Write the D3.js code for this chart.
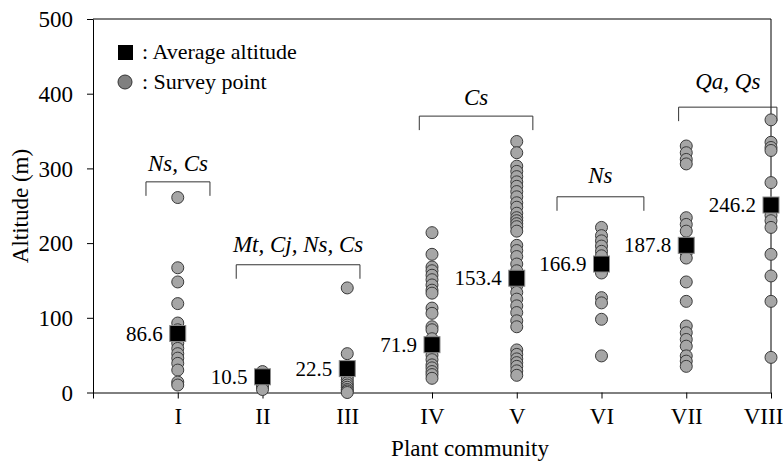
<!DOCTYPE html>
<html lang="en">
<head><meta charset="utf-8">
<title>Altitude by plant community</title>
<style>
body {
  margin: 0;
  background: #ffffff;
  font-family: "Liberation Serif", "Times New Roman", serif;
}
svg text { fill: #000; }
.axis path, .axis line { stroke: #000; stroke-width: 1px; }
.axis text { font-family: "Liberation Serif", serif; font-size: 23px; }
</style>
</head>
<body>
<svg></svg>
<script src="https://d3js.org/d3.v7.min.js"></script>
<script>

// categories and tick labels
var communities = ["I", "II", "III", "IV", "V", "VI", "VII", "VIII"];
var yTicks = [0, 100, 200, 300, 400, 500];

// survey points (m), one list per community
var surveyI    = [261, 167, 148, 119, 93, 84, 66, 59, 52, 46, 39, 30, 14, 10];
var surveyII   = [28, 20, 14, 10, 7, 4];
var surveyIII  = [140, 52, 30, 21, 17, 13, 10, 7, 4, 2, 0];
var surveyIV   = [214, 185, 168, 163, 157, 151, 144, 137, 133, 113, 106, 88, 84, 72, 50, 44, 37, 33, 28, 24, 19];
var surveyV    = [336, 321, 303, 296, 289, 282, 276, 269, 262, 254, 248, 240, 234, 230, 226, 222, 216, 197, 190, 182, 172, 163, 143, 134, 125, 116, 107, 96, 88, 57, 51, 45, 40, 35, 29, 23];
var surveyVI   = [221, 210, 203, 196, 189, 183, 160, 127, 120, 98, 49];
var surveyVII  = [330, 321, 312, 306, 234, 225, 216, 187, 180, 148, 122, 89, 80, 71, 62, 49, 42, 35];
var surveyVIII = [365, 335, 328, 324, 281, 243, 237, 230, 221, 185, 156, 122, 47];
var survey = [surveyI, surveyII, surveyIII, surveyIV, surveyV, surveyVI, surveyVII, surveyVIII];

// average markers: where the square sits, and its printed label
var avgPlotted = [79, 21, 32, 64, 153, 172, 197, 251];
var avgLabels  = ["86.6", "10.5", "22.5", "71.9", "153.4", "166.9", "187.8", "246.2"];

// species brackets: label, start/end in category units, heights in m
var bracketLabels = ["Ns, Cs", "Mt, Cj, Ns, Cs", "Cs", "Ns", "Qa, Qs"];
var bracketFrom   = [0.625, 1.69, 3.85, 5.475, 6.91];
var bracketTo     = [1.38, 3.15, 5.19, 6.50, 8.07];
var bracketLevel  = [282, 171, 370, 262, 382];
var bracketTextAt = [296, 188, 385, 280, 406];

var width = 783, height = 462;
var plotL = 93, plotR = 771, plotT = 19, plotB = 392.5;

var svg = d3.select("svg")
    .attr("width", width)
    .attr("height", height);

var x = d3.scaleLinear().domain([0, 8]).range([plotL, plotR]);
var y = d3.scaleLinear().domain([0, 500]).range([plotB, plotT]);

// frame (top and right)
svg.append("path")
    .attr("d", "M" + plotL + "," + plotT + "H" + plotR + "V" + plotB)
    .attr("fill", "none")
    .attr("stroke", "#000");

svg.append("g")
    .attr("class", "axis")
    .attr("transform", "translate(0," + plotB + ")")
    .call(d3.axisBottom(x)
        .tickValues(d3.range(0, 9))
        .tickSize(6)
        .tickSizeOuter(0)
        .tickFormat(function(d) { return d === 0 ? "" : communities[d - 1]; }))
    .selectAll("text")
    .attr("y", 31)
    .attr("dy", 0)
    .attr("dx", function(d) { return d === 8 ? -8 : 0; });

svg.append("g")
    .attr("class", "axis")
    .attr("transform", "translate(" + plotL + ",0)")
    .call(d3.axisLeft(y)
        .tickValues(yTicks)
        .tickSize(6)
        .tickSizeOuter(0))
    .selectAll("text").attr("x", -20).attr("dy", "0.34em");

// axis titles
svg.append("text")
    .attr("x", 470)
    .attr("y", 456)
    .attr("text-anchor", "middle")
    .style("font-size", "23px")
    .text("Plant community");

svg.append("text")
    .attr("transform", "translate(28," + 206 + ") rotate(-90)")
    .attr("text-anchor", "middle")
    .style("font-size", "23px")
    .text("Altitude (m)");

// brackets
var drop = 14;
bracketLabels.forEach(function(lab, i) {
  var x1 = x(bracketFrom[i]), x2 = x(bracketTo[i]), yy = y(bracketLevel[i]);
  svg.append("path")
      .attr("d", "M" + x1 + "," + (yy + drop) + "V" + yy + "H" + x2 + "V" + (yy + drop))
      .attr("fill", "none")
      .attr("stroke", "#333")
      .attr("stroke-width", 1);
  svg.append("text")
      .attr("x", (x1 + x2) / 2)
      .attr("y", y(bracketTextAt[i]))
      .attr("text-anchor", "middle")
      .style("font-size", "23px")
      .style("font-style", "italic")
      .text(lab);
});

// survey points
survey.forEach(function(vals, i) {
  svg.append("g").selectAll("circle")
      .data(vals)
    .enter().append("circle")
      .attr("cx", x(i + 1))
      .attr("cy", function(d) { return y(d); })
      .attr("r", 6)
      .attr("fill", "#a6a6a6")
      .attr("stroke", "#3a3a3a")
      .attr("stroke-width", 1);
});

// averages
var sq = 16;
svg.append("g").selectAll("rect")
    .data(avgPlotted)
  .enter().append("rect")
    .attr("x", function(d, i) { return x(i + 1) - sq / 2; })
    .attr("y", function(d) { return y(d) - sq / 2; })
    .attr("width", sq)
    .attr("height", sq)
    .attr("fill", "#000")
    .attr("stroke", "#8c8c8c")
    .attr("stroke-width", 1);

svg.append("g").selectAll("text")
    .data(avgPlotted)
  .enter().append("text")
    .attr("x", function(d, i) { return x(i + 1) - 15; })
    .attr("y", function(d) { return y(d); })
    .attr("dy", "0.34em")
    .attr("text-anchor", "end")
    .style("font-size", "21px")
    .text(function(d, i) { return avgLabels[i]; });

// legend
var legend = svg.append("g");
legend.append("rect")
    .attr("x", 118).attr("y", 45)
    .attr("width", 15).attr("height", 15)
    .attr("fill", "#000");
legend.append("text")
    .attr("x", 142).attr("y", 59)
    .style("font-size", "22px")
    .text(": Average altitude");
legend.append("circle")
    .attr("cx", 125).attr("cy", 82)
    .attr("r", 7)
    .attr("fill", "#808080")
    .attr("stroke", "#333");
legend.append("text")
    .attr("x", 142).attr("y", 89)
    .style("font-size", "22px")
    .text(": Survey point");

</script>
</body>
</html>
